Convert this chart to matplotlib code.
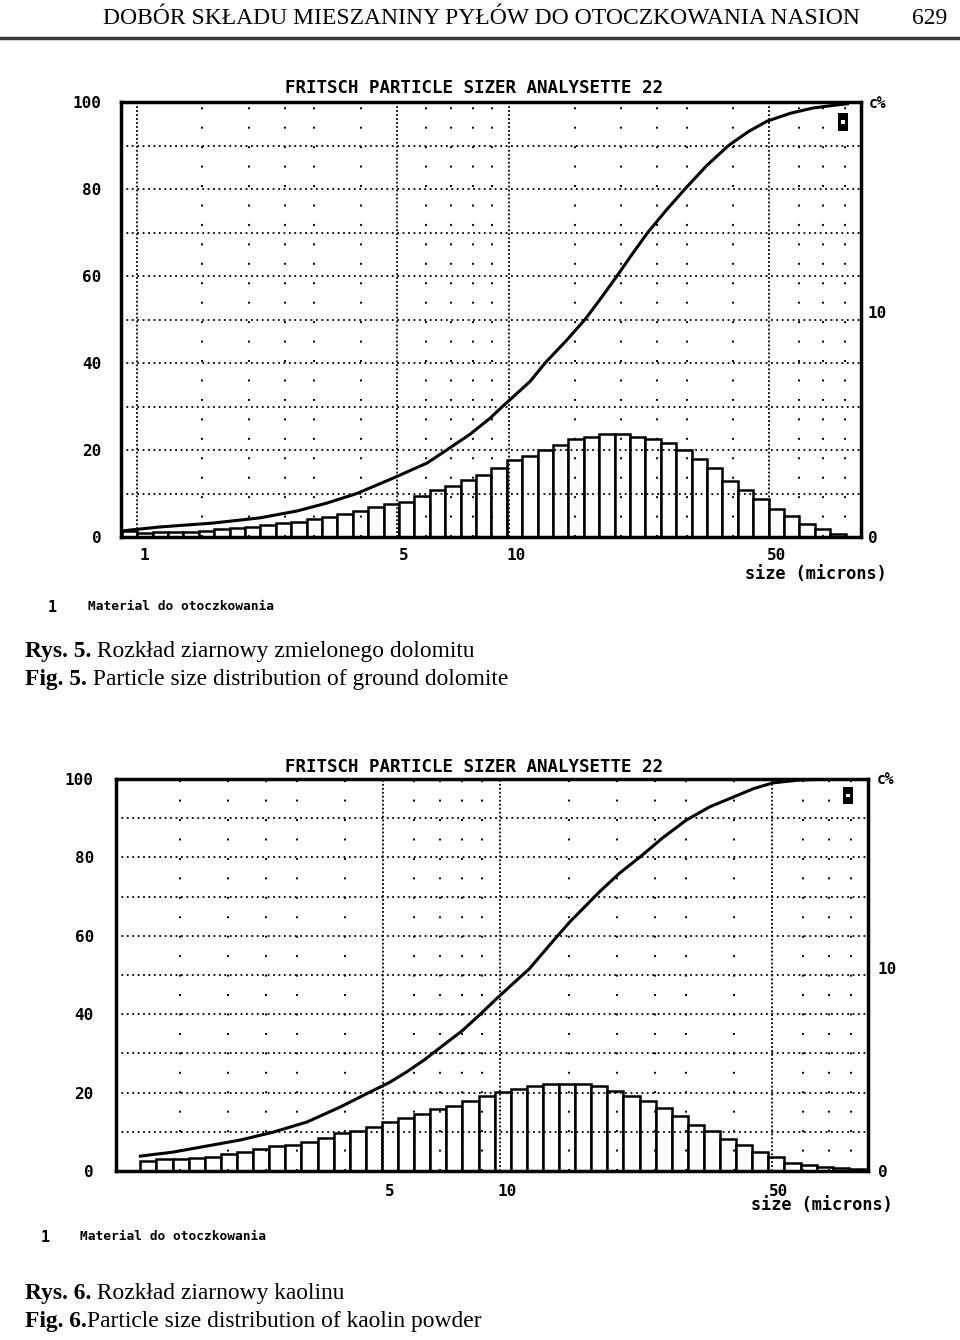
import numpy as np
import matplotlib
matplotlib.use('Agg')
import matplotlib.pyplot as plt
from matplotlib.patches import Rectangle
from matplotlib.ticker import NullLocator
from matplotlib.transforms import ScaledTranslation

MONO = 'DejaVu Sans Mono'
SERIF = 'Liberation Serif'

# --- Fig. 5: ground dolomite -------------------------------------------
# channel distribution (right axis), one value per size channel
dolomite_q = [0.27, 0.19, 0.22, 0.22, 0.24, 0.27, 0.37, 0.41, 0.46, 0.52,
              0.64, 0.67, 0.79, 0.89, 1.01, 1.16, 1.33, 1.48, 1.57, 1.82,
              2.09, 2.27, 2.52, 2.76, 3.08, 3.41, 3.60, 3.85, 4.07, 4.37,
              4.44, 4.59, 4.56, 4.44, 4.33, 4.18, 3.85, 3.48, 3.04, 2.49,
              2.10, 1.70, 1.26, 0.92, 0.59, 0.34, 0.15]
dolomite_first_edge = 0.91
# cumulative curve (left axis, %)
dolomite_cum_size = [0.91, 1.15, 1.6, 2.14, 2.7, 3.24, 3.9, 4.87, 6.02, 6.8, 7.85,
                     8.89, 9.6, 10.5, 11.4, 12.5, 14.2, 16.0, 17.7, 19.5, 21.5,
                     23.6, 26.5, 29.7, 34.0, 38.9, 44.0, 49.4, 57.0, 65.4, 74.0, 81.2]
dolomite_cum_pct = [1.4, 2.3, 3.2, 4.4, 6.0, 7.8, 10.0, 13.5, 17.0, 20.0, 23.6,
                    27.3, 30.0, 33.0, 35.8, 40.0, 45.0, 50.0, 55.0, 60.0, 65.2,
                    70.0, 75.2, 80.0, 85.4, 90.0, 93.2, 95.6, 97.4, 98.6, 99.2, 99.6]

# --- Fig. 6: kaolin powder ---------------------------------------------
kaolin_q = [0.49, 0.57, 0.57, 0.65, 0.69, 0.85, 0.93, 1.09, 1.21, 1.29,
            1.42, 1.63, 1.86, 1.99, 2.16, 2.40, 2.60, 2.81, 3.06, 3.22,
            3.46, 3.68, 3.91, 4.04, 4.20, 4.28, 4.28, 4.28, 4.17, 3.95,
            3.68, 3.43, 3.10, 2.70, 2.27, 1.96, 1.58, 1.26, 0.93, 0.69,
            0.39, 0.28, 0.21, 0.15, 0.08]
kaolin_first_edge = 1.19
kaolin_cum_size = [1.19, 1.44, 1.77, 2.15, 2.61, 3.19, 3.88, 4.58, 5.2, 5.76, 6.4,
                   7.0, 8.0, 8.9, 9.83, 10.8, 11.9, 13.4, 15.1, 18.1, 20.3, 22.9,
                   26.2, 30.1, 34.6, 39.8, 45.0, 50.3, 58.2, 70.5, 88.0]
kaolin_cum_pct = [3.8, 4.8, 6.4, 7.9, 9.9, 12.5, 16.3, 19.9, 22.6, 25.3, 28.4,
                  31.4, 35.8, 40.0, 44.1, 47.8, 51.6, 57.6, 63.5, 71.4, 76.0, 80.1,
                  85.0, 89.5, 92.9, 95.4, 97.6, 99.0, 99.7, 100.0, 100.0]

channel_ratio = 1.1          # analyser size channels grow by 10 %
major_sizes = [1, 5, 10, 50]
minor_sizes = [1.5, 2, 2.5, 3, 4, 6, 7, 8, 9, 15, 20, 25, 30, 40, 60, 70, 80]
left_ticks = [0, 20, 40, 60, 80, 100]
right_ticks = [0, 10]

fig = plt.figure(figsize=(9.6, 13.4), dpi=100)

# page overlay in pixel coordinates for the printed text
page = fig.add_axes([0, 0, 1, 1])
page.set_xlim(0, 960)
page.set_ylim(1340, 0)
page.axis('off')


def draw_chart(rect, q, first_edge, cum_size, cum_pct, xlim, xticks, pads, marker):
    edges = first_edge * channel_ratio ** np.arange(len(q) + 1)
    ax = fig.add_axes(rect)
    ax.set_xscale('log')
    axr = ax.twinx()
    ax.set_zorder(axr.get_zorder() + 1)
    ax.patch.set_visible(False)

    axr.bar(edges[:-1], q, width=np.diff(edges), align='edge',
            color='white', edgecolor='black', linewidth=1.8)
    axr.set_ylim(0, 19.3)

    for y in range(10, 100, 10):
        ax.axhline(y, color='black', lw=1.3, ls=(0, (1, 2)))
    for x in major_sizes:
        ax.axvline(x, color='black', lw=1.3, ls=(0, (1, 1.2)))
    for x in minor_sizes:
        ax.axvline(x, color='black', lw=1.4, ls=(0, (1, 9)))

    ax.plot(cum_size, cum_pct, color='black', lw=2.2)

    ax.set_xlim(xlim)
    ax.set_ylim(0, 100)
    ax.set_xticks(xticks)
    ax.set_xticklabels([str(t) for t in xticks])
    ax.xaxis.set_minor_locator(NullLocator())
    ax.set_yticks(left_ticks)
    ax.set_yticklabels([str(t) for t in left_ticks])
    ax.tick_params(axis='x', length=0, pad=pads[0], labelsize=11.5)
    ax.tick_params(axis='y', length=0, pad=pads[1], labelsize=11.5)
    axr.set_yticks(right_ticks)
    axr.set_yticklabels([str(t) for t in right_ticks])
    axr.tick_params(axis='y', length=0, pad=pads[2], labelsize=11.5)
    for lab in ax.get_xticklabels():
        lab.set_transform(lab.get_transform() + ScaledTranslation(5 / 72, 0, fig.dpi_scale_trans))
    for lab in ax.get_xticklabels() + ax.get_yticklabels() + axr.get_yticklabels():
        lab.set_family(MONO)
        lab.set_weight('bold')

    for s in ax.spines.values():
        s.set_linewidth(2.5)
    for s in axr.spines.values():
        s.set_visible(False)

    mx, my, mw, mh = marker
    ax.add_patch(Rectangle((mx, my), mw, mh, transform=ax.transAxes,
                           facecolor='black', edgecolor='none', zorder=6))
    ax.add_patch(Rectangle((mx + mw * 0.3, my + mh * 0.4), mw * 0.4, mh * 0.2,
                           transform=ax.transAxes, facecolor='white',
                           edgecolor='none', zorder=7))
    return ax


def caption(x, y, bold, rest):
    t = page.text(x, y, bold, family=SERIF, weight='bold', fontsize=16.9, va='center')
    page.annotate(rest, xy=(1, 0), xycoords=t, va='bottom', ha='left',
                  family=SERIF, fontsize=16.9)


# header
page.text(481, 19, 'DOBÓR SKŁADU MIESZANINY PYŁÓW DO OTOCZKOWANIA NASION',
          ha='center', va='center', family=SERIF, fontsize=17)
page.text(947, 19, '629', ha='right', va='center', family=SERIF, fontsize=17)
page.axhline(38, color='#3a3a3a', lw=2.5)

# chart 1
draw_chart([121 / 960, 1 - 537 / 1340, 740 / 960, 435 / 1340],
           dolomite_q, dolomite_first_edge, dolomite_cum_size, dolomite_cum_pct,
           (0.906, 88.3), [1, 5, 10, 50], (8, 14, 5),
           (0.969, 0.933, 0.0135, 0.041))
page.text(474, 88, 'FRITSCH PARTICLE SIZER ANALYSETTE 22', ha='center', va='center',
          family=MONO, weight='bold', fontsize=12.6)
page.text(878, 104, 'c%', ha='center', va='center', family=MONO, weight='bold', fontsize=10.5)
page.text(816, 574, 'size (microns)', ha='center', va='center', family=MONO,
          weight='bold', fontsize=12.2)
page.text(52, 607, '1', ha='center', va='center', family=MONO, weight='bold', fontsize=11)
page.text(88, 607, 'Material do otoczkowania', ha='left', va='center', family=MONO,
          weight='bold', fontsize=9.3)
caption(25, 651, 'Rys. 5.', ' Rozkład ziarnowy zmielonego dolomitu')
caption(25, 679, 'Fig. 5.', ' Particle size distribution of ground dolomite')

# chart 2
draw_chart([116 / 960, 1 - 1171 / 1340, 752 / 960, 392 / 1340],
           kaolin_q, kaolin_first_edge, kaolin_cum_size, kaolin_cum_pct,
           (1.03, 88.3), [5, 10, 50], (9, 16, 7),
           (0.967, 0.936, 0.0133, 0.043))
page.text(474, 767, 'FRITSCH PARTICLE SIZER ANALYSETTE 22', ha='center', va='center',
          family=MONO, weight='bold', fontsize=12.6)
page.text(885, 779, 'c%', ha='center', va='center', family=MONO, weight='bold', fontsize=10.5)
page.text(822, 1205, 'size (microns)', ha='center', va='center', family=MONO,
          weight='bold', fontsize=12.2)
page.text(45, 1237, '1', ha='center', va='center', family=MONO, weight='bold', fontsize=11)
page.text(80, 1237, 'Material do otoczkowania', ha='left', va='center', family=MONO,
          weight='bold', fontsize=9.3)
caption(25, 1294, 'Rys. 6.', ' Rozkład ziarnowy kaolinu')
caption(25, 1322, 'Fig. 6.', 'Particle size distribution of kaolin powder')

fig.savefig('out.png', dpi=100)
